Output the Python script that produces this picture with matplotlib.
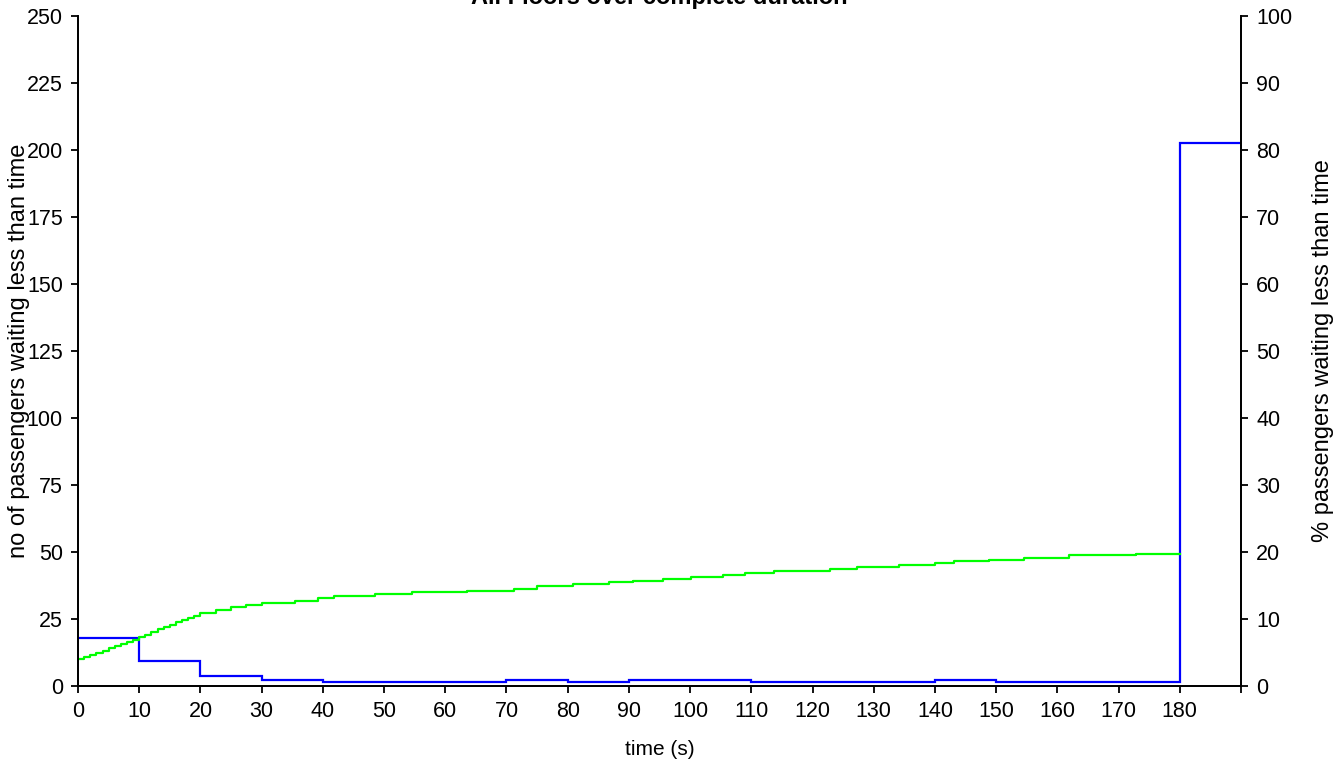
import matplotlib
matplotlib.use("Agg")
import matplotlib.pyplot as plt
import numpy as np

plt.rcParams['font.family'] = ['Liberation Sans', 'DejaVu Sans']

# waiting-time histogram, 10 s bins (last bin holds everyone waiting 180 s or more)
bin_edges = [0, 10, 20, 30, 40, 50, 60, 70, 80, 90, 100, 110, 120, 130, 140, 150, 160, 170, 180, 190]
bin_counts = [18.0, 9.5, 3.6, 2.1, 1.5, 1.5, 1.5, 2.1, 1.5, 2.1, 2.1, 1.5, 1.5, 1.5, 2.1, 1.5, 1.5, 1.5, 202.6]

# cumulative number of passengers waiting less than t
cum_times = [0, 1, 2, 3, 4, 5, 6, 7, 8, 9, 10, 11, 12, 13, 14, 15, 16, 17, 18, 19, 20,
             22.5, 25, 27.5, 30, 35.4, 39.2, 41.8, 48.5, 54.6, 63.5, 71.3, 75.0, 80.9, 86.8,
             90.7, 95.5, 100.2, 105.3, 109.0, 113.7, 122.9, 127.2, 134.2, 140.0, 143.1,
             148.8, 154.5, 161.9, 172.8, 180]
cum_counts = [10.2, 10.8, 11.6, 12.4, 13.2, 14.0, 14.9, 15.7, 16.5, 17.3, 18.2, 19.2, 20.2,
              21.1, 22.0, 22.9, 23.8, 24.6, 25.4, 26.2, 27.2, 28.4, 29.4, 30.2, 30.9, 31.9,
              32.9, 33.5, 34.4, 35.0, 35.6, 36.2, 37.2, 38.1, 38.7, 39.1, 39.8, 40.7, 41.5,
              42.2, 42.8, 43.6, 44.3, 45.1, 45.9, 46.5, 47.1, 47.8, 48.7, 49.3, 49.3]

total_passengers = 250

fig = plt.figure(figsize=(13.41, 7.64), dpi=100)
ax = fig.add_axes([0.0582, 0.1021, 0.8672, 0.8769])

ax.step(cum_times, cum_counts, where='post', color='#00ff00', lw=1.6)
ax.stairs(bin_counts, bin_edges, baseline=None, color='#0000ff', lw=1.6)

ax.set_xlim(0, 190)
ax.set_ylim(0, total_passengers)
ax.set_xticks(np.arange(0, 191, 10))
ax.set_xticklabels([str(t) for t in range(0, 181, 10)] + [''])
ax.set_yticks(np.arange(0, 251, 25))

ax2 = ax.twinx()
ax2.set_ylim(0, 100)
ax2.set_yticks(np.arange(0, 101, 10))

for a in (ax, ax2):
    a.spines['top'].set_visible(False)
    a.tick_params(direction='out', length=5, width=1.3, labelsize=15.5, pad=6)
    for s in a.spines.values():
        s.set_linewidth(1.3)

ax.set_title('All Floors over complete duration', fontsize=17, fontweight='bold', pad=9)
ax.set_xlabel('time (s)', fontsize=15)
ax.xaxis.set_label_coords(0.5, -0.08)
ax.set_ylabel('no of passengers waiting less than time', fontsize=17)
ax.yaxis.set_label_coords(-0.0413, 0.5)
ax2.set_ylabel('% passengers waiting less than time', fontsize=17)
ax2.yaxis.set_label_coords(1.061, 0.5)

fig.savefig('out.png', dpi=100)
